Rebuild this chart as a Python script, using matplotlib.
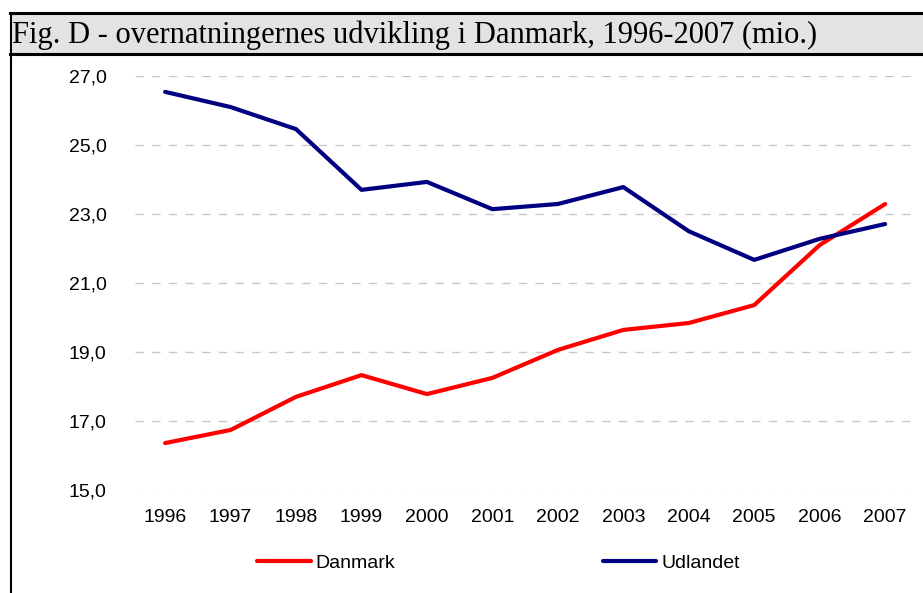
import matplotlib.pyplot as plt
from matplotlib.patches import Rectangle
from matplotlib.lines import Line2D

years = ['1996', '1997', '1998', '1999', '2000', '2001',
         '2002', '2003', '2004', '2005', '2006', '2007']
danmark = [16.36, 16.74, 17.70, 18.33, 17.78, 18.25,
           19.06, 19.64, 19.84, 20.36, 22.10, 23.29]
udlandet = [26.54, 26.10, 25.46, 23.70, 23.93, 23.14,
            23.29, 23.78, 22.50, 21.67, 22.28, 22.71]
yticks = [15, 17, 19, 21, 23, 25, 27]

W, H = 923, 593
fig = plt.figure(figsize=(W / 100, H / 100), dpi=100)

# frame + grey title bar
fig.patches.append(Rectangle((10 / W, 1 - 54 / H), 1 - 10 / W, 41 / H,
                             transform=fig.transFigure, facecolor='#e3e3e3',
                             edgecolor='none', zorder=0))
fig.add_artist(Line2D([10 / W, 1], [1 - 13 / H] * 2, color='black', lw=2.2))
fig.add_artist(Line2D([10 / W, 1], [1 - 54 / H] * 2, color='black', lw=2.2))
fig.add_artist(Line2D([10.5 / W] * 2, [1 - 13 / H, 0], color='black', lw=1.5))
fig.text(12 / W, 1 - 35 / H, 'Fig. D - overnatningernes udvikling i Danmark, 1996-2007 (mio.)',
         family='Liberation Serif', fontsize=22, va='center', ha='left')

ax = fig.add_axes([135 / W, 1 - 490 / H, (912 - 135) / W, (490 - 76) / H])
x = range(len(years))
ax.plot(x, danmark, color='#ff0000', lw=3, label='Danmark', solid_capstyle='round')
ax.plot(x, udlandet, color='#000080', lw=3, label='Udlandet', solid_capstyle='round')

ax.set_ylim(15, 27)
ax.set_xlim(-0.46, 11.41)
ax.set_yticks(yticks)
ax.set_yticklabels([f'{v:.1f}'.replace('.', ',') for v in yticks])
ax.set_xticks(list(x))
ax.set_xticklabels(years)
for s in ax.spines.values():
    s.set_visible(False)
ax.tick_params(length=0, labelsize=14)
ax.tick_params(axis='y', pad=20.5)
ax.tick_params(axis='x', pad=14)
for lab in ax.get_xticklabels() + ax.get_yticklabels():
    lab.set_family('Liberation Sans')
for v in yticks:
    ax.axhline(v, color='#c8c8c8' if v > 15 else '#ececec', lw=1,
               dashes=(6, 6), zorder=0)

leg = fig.legend(loc='center', bbox_to_anchor=(498.5 / W, 1 - 563 / H), ncol=2,
                 frameon=False, prop={'family': 'Liberation Sans', 'size': 14},
                 handlelength=2.75, handletextpad=0.25, columnspacing=10.67)

fig.savefig('out.png', dpi=100)
